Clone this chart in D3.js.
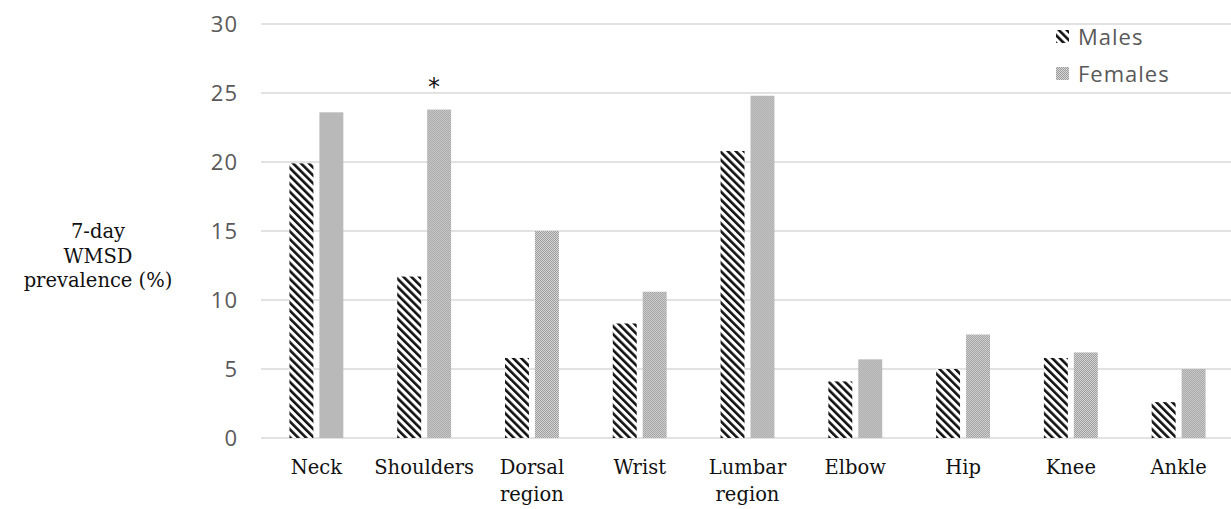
<!DOCTYPE html>
<html>
<head>
<meta charset="utf-8">
<script src="https://cdn.jsdelivr.net/npm/d3@7"></script>
<style>
  body { margin: 0; background: #fff; }
  .tick-label { font-family: "Open Sans", sans-serif; font-size: 22px; fill: #595959; letter-spacing: 1px; }
  .cat-label, .y-title { font-family: "DejaVu Serif", serif; font-size: 19.5px; fill: #111; }
  .legend-label { font-family: "Open Sans", sans-serif; font-size: 22px; fill: #595959; letter-spacing: 1px; }
</style>
</head>
<body>
<svg id="chart"></svg>
<script>
// chart values
const categories = [['Neck'], ['Shoulders'], ['Dorsal', 'region'], ['Wrist'], ['Lumbar', 'region'],
  ['Elbow'], ['Hip'], ['Knee'], ['Ankle']];
const males = [19.9, 11.7, 5.8, 8.3, 20.8, 4.1, 5.0, 5.8, 2.6];
const females = [23.6, 23.8, 15.0, 10.6, 24.8, 5.7, 7.5, 6.2, 5.0];
const seriesNames = ['Males', 'Females'];
const yTicks = [0, 5, 10, 15, 20, 25, 30];
const significant = ['Shoulders'];

const width = 1231, height = 509;
const margin = {top: 24, right: 0, bottom: 71, left: 261};

const svg = d3.select('#chart')
    .attr('width', width)
    .attr('height', height);

const defs = svg.append('defs');

// diagonal stripes for males
const stripes = defs.append('pattern')
    .attr('id', 'stripes')
    .attr('patternUnits', 'userSpaceOnUse')
    .attr('width', 5.6)
    .attr('height', 5.6)
    .attr('patternTransform', 'rotate(-45)');
stripes.append('rect').attr('width', 5.6).attr('height', 5.6).attr('fill', '#fff');
stripes.append('rect').attr('width', 2.6).attr('height', 5.6).attr('fill', '#111');

// fine checker for females
const checker = defs.append('pattern')
    .attr('id', 'checker')
    .attr('patternUnits', 'userSpaceOnUse')
    .attr('width', 2)
    .attr('height', 2);
checker.append('rect').attr('width', 2).attr('height', 2).attr('fill', '#d6d6d6');
checker.append('rect').attr('width', 1).attr('height', 1).attr('fill', '#9c9c9c');
checker.append('rect').attr('x', 1).attr('y', 1).attr('width', 1).attr('height', 1).attr('fill', '#9c9c9c');

const fills = {Males: 'url(#stripes)', Females: 'url(#checker)'};

const x0 = d3.scaleBand()
    .domain(categories.map(d => d.join(' ')))
    .range([margin.left + 1.5, width + 1.5]);

const x1 = d3.scaleBand()
    .domain(seriesNames)
    .range([0, x0.bandwidth()])
    .paddingInner(0.2)
    .paddingOuter(0.9);

const y = d3.scaleLinear()
    .domain([0, 30])
    .range([height - margin.bottom, margin.top]);

// gridlines
svg.append('g')
    .selectAll('line')
    .data(yTicks)
  .join('line')
    .attr('x1', margin.left)
    .attr('x2', width - margin.right)
    .attr('y1', d => y(d))
    .attr('y2', d => y(d))
    .attr('stroke', '#d9d9d9')
    .attr('stroke-width', 1.5);

// y tick labels
const yAxis = d3.axisLeft(y).tickValues(yTicks).tickSize(0).tickPadding(0);
const yAxisG = svg.append('g')
    .attr('transform', `translate(${margin.left - 23},0)`)
    .call(yAxis);
yAxisG.select('.domain').remove();
yAxisG.selectAll('text').attr('class', 'tick-label').attr('fill', null).attr('dy', '0.36em');

// bars
const rows = categories.map((c, i) => ({key: c.join(' '), Males: males[i], Females: females[i]}));

const groups = svg.append('g')
    .selectAll('g')
    .data(rows)
  .join('g')
    .attr('transform', d => `translate(${x0(d.key)},0)`);

groups.selectAll('rect')
    .data(d => seriesNames.map(s => ({series: s, value: d[s]})))
  .join('rect')
    .attr('x', d => x1(d.series))
    .attr('width', x1.bandwidth())
    .attr('y', d => y(d.value))
    .attr('height', d => y(0) - y(d.value))
    .attr('fill', d => fills[d.series]);

// significance marker
groups.filter(d => significant.includes(d.key))
  .append('text')
    .attr('x', x1('Females') + x1.bandwidth() / 2 - 5)
    .attr('y', d => y(d.Females) - 15)
    .attr('text-anchor', 'middle')
    .attr('font-family', 'DejaVu Sans, sans-serif')
    .attr('font-size', 24)
    .attr('fill', '#111')
    .text('*');

// category labels
const xLabels = svg.append('g')
    .selectAll('text')
    .data(categories)
  .join('text')
    .attr('class', 'cat-label')
    .attr('text-anchor', 'middle')
    .attr('x', d => x0(d.join(' ')) + x0.bandwidth() / 2)
    .attr('y', 474);
xLabels.selectAll('tspan')
    .data(d => d)
  .join('tspan')
    .attr('x', function() { return d3.select(this.parentNode).attr('x'); })
    .attr('dy', (d, i) => i === 0 ? 0 : 27)
    .text(d => d);

// y title
const yTitle = svg.append('text')
    .attr('class', 'y-title')
    .attr('text-anchor', 'middle')
    .attr('x', 98)
    .attr('y', 238);
yTitle.selectAll('tspan')
    .data(['7-day', 'WMSD', 'prevalence (%)'])
  .join('tspan')
    .attr('x', 98)
    .attr('dy', (d, i) => i === 0 ? 0 : 24.5)
    .text(d => d);

// legend
const legend = svg.append('g')
    .attr('transform', 'translate(1056,37)');
const items = legend.selectAll('g')
    .data(seriesNames)
  .join('g')
    .attr('transform', (d, i) => `translate(0,${i * 37})`);
items.append('rect')
    .attr('x', 0)
    .attr('y', -7)
    .attr('width', 13)
    .attr('height', 13)
    .attr('fill', d => fills[d]);
items.append('text')
    .attr('class', 'legend-label')
    .attr('x', 22)
    .attr('dy', '0.36em')
    .text(d => d);
</script>
</body>
</html>
